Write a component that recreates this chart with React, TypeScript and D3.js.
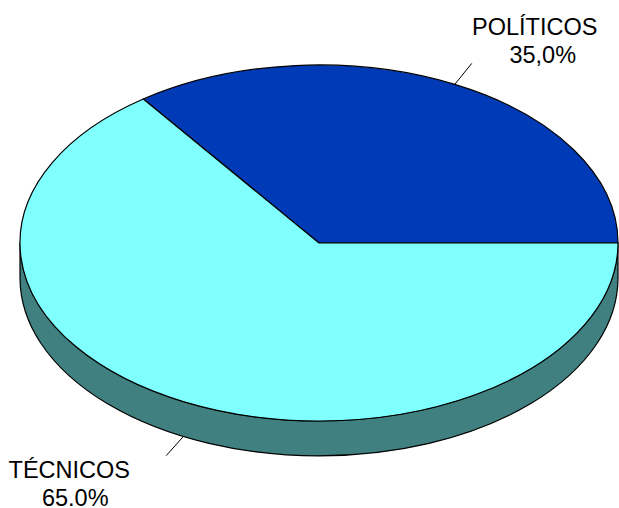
import React from "react";
import * as d3 from "d3";

const categories = ["POLÍTICOS", "TÉCNICOS"];
const values = [35, 65];
const valueLabels = ["35,0%", "65.0%"];
const colors = ["#003AB6", "#80FFFF"];
const sideColors = ["#001D5B", "#408080"];

const W = 619;
const H = 508;
const cx = 319;
const cy = 243;
const rx = 299;
const ry = 178;
const depth = 35;

function pt(a: number, dy = 0): [number, number] {
  return [cx + rx * Math.sin(a), cy - ry * Math.cos(a) + dy];
}

export default function App() {
  const start = Math.PI / 2 - 2 * Math.PI * (values[0] / d3.sum(values));
  const pie = d3
    .pie<number>()
    .sort(null)
    .value((d) => d)
    .startAngle(start)
    .endAngle(start + 2 * Math.PI);
  const arcs = pie(values);

  const sides: { d: string; color: string }[] = [];
  arcs.forEach((a, i) => {
    const ranges = [
      [Math.PI / 2, (3 * Math.PI) / 2],
      [Math.PI / 2 - 2 * Math.PI, (3 * Math.PI) / 2 - 2 * Math.PI],
    ];
    ranges.forEach(([r0, r1]) => {
      const s0 = Math.max(a.startAngle, r0);
      const s1 = Math.min(a.endAngle, r1);
      if (s1 > s0) {
        const p0 = pt(s0);
        const p1 = pt(s1);
        const q0 = pt(s0, depth);
        const q1 = pt(s1, depth);
        const large = s1 - s0 > Math.PI ? 1 : 0;
        const d = `M${p0[0]},${p0[1]} A${rx},${ry} 0 ${large} 1 ${p1[0]},${p1[1]} L${q1[0]},${q1[1]} A${rx},${ry} 0 ${large} 0 ${q0[0]},${q0[1]} Z`;
        sides.push({ d, color: sideColors[i] });
      }
    });
  });

  const tops = arcs.map((a, i) => {
    const p0 = pt(a.startAngle);
    const p1 = pt(a.endAngle);
    const large = a.endAngle - a.startAngle > Math.PI ? 1 : 0;
    const d = `M${cx},${cy} L${p0[0]},${p0[1]} A${rx},${ry} 0 ${large} 1 ${p1[0]},${p1[1]} Z`;
    return { d, color: colors[i] };
  });

  const labels = arcs.map((a, i) => {
    const mid = (a.startAngle + a.endAngle) / 2;
    const front = Math.cos(mid) < 0;
    const [x0, y0] = pt(mid, front ? depth : 0);
    const right = Math.sin(mid) > 0;
    const x1 = x0 + (right ? 17 : -17);
    const y1 = y0 + (front ? 19 : -21);
    return { mid, x0, y0, x1, y1, right, front, i };
  });

  const fs = 23.5;

  return (
    <svg
      width={W}
      height={H}
      style={{ position: "absolute", left: 0, top: 0, background: "#fff" }}
      fontFamily="'Liberation Sans', Arial, sans-serif"
    >
      {sides.map((s, i) => (
        <path key={"s" + i} d={s.d} fill={s.color} stroke="#000" strokeWidth={1.2} strokeLinejoin="round" />
      ))}
      {tops.map((t, i) => (
        <path key={"t" + i} d={t.d} fill={t.color} stroke="#000" strokeWidth={1.2} strokeLinejoin="round" />
      ))}
      {labels.map((l) => (
        <g key={"l" + l.i}>
          <line x1={l.x0} y1={l.y0} x2={l.x1} y2={l.y1} stroke="#000" strokeWidth={1} />
          {l.right ? (
            <>
              <text x={l.x1 + 63} y={l.y1 - 28} fontSize={fs} textAnchor="middle" fill="#000">
                {categories[l.i]}
              </text>
              <text x={l.x1 + 71} y={l.y1} fontSize={fs} textAnchor="middle" fill="#000">
                {valueLabels[l.i]}
              </text>
            </>
          ) : (
            <>
              <text x={l.x1 - 97} y={l.y1 + 22} fontSize={fs} textAnchor="middle" fill="#000">
                {categories[l.i]}
              </text>
              <text x={l.x1 - 91} y={l.y1 + 50} fontSize={fs} textAnchor="middle" fill="#000">
                {valueLabels[l.i]}
              </text>
            </>
          )}
        </g>
      ))}
    </svg>
  );
}
